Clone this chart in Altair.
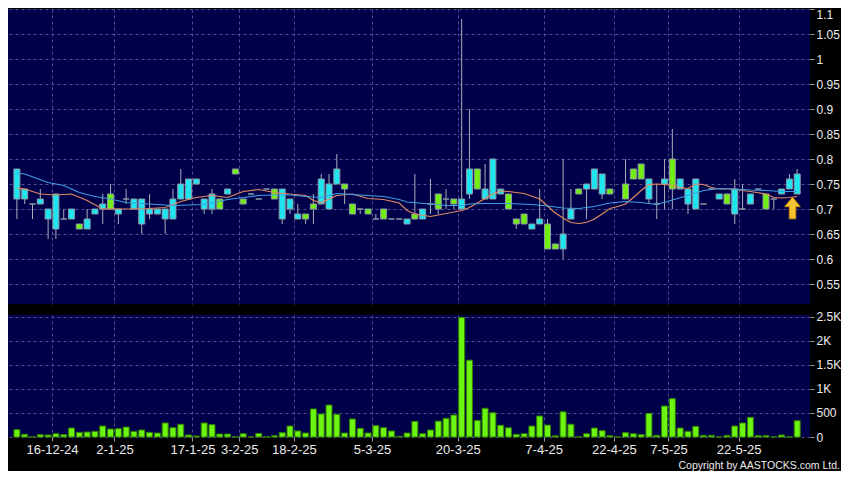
import altair as alt
import pandas as pd
import numpy as np

# ---------------- data ----------------
opens = [0.72, 0.72, 0.71, 0.71, 0.68, 0.66, 0.68, 0.68, 0.67, 0.66,
         0.69, 0.70, 0.73, 0.69, 0.72, 0.70, 0.67, 0.69, 0.69, 0.68,
         0.68, 0.72, 0.72, 0.75, 0.70, 0.70, 0.72, 0.73, 0.78, 0.72,
         0.73, 0.72, 0.74, 0.74, 0.68, 0.70, 0.68, 0.69, 0.71, 0.71,
         0.70, 0.75, 0.75, 0.71, 0.70, 0.70, 0.68, 0.70, 0.68, 0.68,
         0.67, 0.69, 0.68, 0.71, 0.73, 0.72, 0.72, 0.70, 0.73, 0.78,
         0.72, 0.72, 0.73, 0.73, 0.68, 0.69, 0.66, 0.67, 0.67, 0.63,
         0.62, 0.68, 0.74, 0.74, 0.74, 0.73, 0.74, None, 0.75, 0.78,
         0.79, 0.72, 0.71, 0.75, 0.80, 0.74, 0.71, 0.70, 0.71, 0.74,
         0.72, 0.73, 0.69, 0.70, 0.71, 0.74, 0.73, 0.72, 0.73, 0.74,
         0.73]
highs = [0.78, 0.74, 0.71, 0.74, 0.70, 0.73, 0.70, 0.70, 0.67, 0.70,
         0.70, 0.73, 0.75, 0.70, 0.74, 0.72, 0.72, 0.73, 0.70, 0.70,
         0.74, 0.78, 0.76, 0.76, 0.72, 0.74, 0.72, 0.74, 0.78, 0.72,
         0.73, 0.72, 0.74, 0.74, 0.74, 0.72, 0.71, 0.69, 0.73, 0.77,
         0.77, 0.81, 0.75, 0.71, 0.70, 0.70, 0.69, 0.70, 0.68, 0.68,
         0.68, 0.77, 0.70, 0.76, 0.73, 0.74, 0.72, 1.08, 0.90, 0.78,
         0.79, 0.80, 0.74, 0.73, 0.68, 0.69, 0.67, 0.74, 0.68, 0.63,
         0.80, 0.74, 0.74, 0.75, 0.78, 0.77, 0.74, None, 0.80, 0.78,
         0.79, 0.76, 0.75, 0.80, 0.86, 0.76, 0.74, 0.76, 0.71, 0.74,
         0.73, 0.73, 0.76, 0.75, 0.73, 0.74, 0.73, 0.72, 0.74, 0.77,
         0.78]
lows = [0.68, 0.71, 0.68, 0.71, 0.64, 0.64, 0.68, 0.68, 0.66, 0.66,
        0.69, 0.67, 0.70, 0.67, 0.71, 0.70, 0.65, 0.68, 0.69, 0.65,
        0.68, 0.72, 0.72, 0.75, 0.69, 0.69, 0.70, 0.73, 0.77, 0.71,
        0.73, 0.72, 0.74, 0.72, 0.67, 0.69, 0.68, 0.67, 0.67, 0.71,
        0.70, 0.75, 0.71, 0.69, 0.69, 0.69, 0.68, 0.68, 0.68, 0.68,
        0.67, 0.68, 0.68, 0.69, 0.69, 0.70, 0.70, 0.70, 0.72, 0.74,
        0.72, 0.72, 0.73, 0.70, 0.66, 0.67, 0.66, 0.67, 0.62, 0.62,
        0.60, 0.68, 0.73, 0.68, 0.74, 0.72, 0.73, None, 0.72, 0.76,
        0.76, 0.71, 0.68, 0.70, 0.70, 0.74, 0.69, 0.70, 0.71, 0.74,
        0.72, 0.71, 0.67, 0.70, 0.71, 0.74, 0.70, 0.70, 0.73, 0.74,
        0.73]
closes = [0.78, 0.74, 0.71, 0.72, 0.70, 0.73, 0.68, 0.70, 0.66, 0.68,
          0.70, 0.71, 0.70, 0.70, 0.72, 0.72, 0.72, 0.70, 0.70, 0.70,
          0.72, 0.75, 0.76, 0.76, 0.72, 0.73, 0.70, 0.74, 0.77, 0.71,
          0.73, 0.72, 0.74, 0.72, 0.74, 0.72, 0.69, 0.68, 0.70, 0.76,
          0.75, 0.78, 0.74, 0.69, 0.70, 0.69, 0.68, 0.68, 0.68, 0.68,
          0.68, 0.68, 0.70, 0.71, 0.70, 0.72, 0.71, 0.72, 0.78, 0.74,
          0.74, 0.80, 0.74, 0.70, 0.67, 0.67, 0.67, 0.68, 0.62, 0.62,
          0.65, 0.70, 0.73, 0.75, 0.78, 0.77, 0.73, None, 0.72, 0.76,
          0.76, 0.76, 0.71, 0.76, 0.74, 0.76, 0.74, 0.76, 0.71, 0.74,
          0.73, 0.71, 0.74, 0.70, 0.73, 0.74, 0.70, 0.72, 0.74, 0.76,
          0.77]
volumes = [153, 56, 5, 49, 42, 69, 49, 187, 97, 104,
           118, 229, 167, 174, 208, 118, 146, 97, 83, 292,
           194, 264, 42, 20, 292, 257, 62, 62, 5, 69,
           3, 76, 5, 28, 90, 229, 125, 83, 583, 479,
           666, 472, 83, 375, 180, 83, 236, 194, 125, 14,
           83, 326, 69, 146, 330, 389, 458, 2490, 1600, 345,
           598, 505, 245, 192, 56, 70, 228, 437, 248, 25,
           525, 266, 3, 69, 187, 132, 28, 0, 90, 69,
           49, 493, 35, 645, 798, 187, 118, 222, 35, 35,
           3, 35, 229, 292, 410, 28, 28, 3, 42, 3,
           340]

# moving-average lines, read at sampled trading-day positions
fast_ma_idx = [0, 1, 3, 5, 7, 9, 11, 13, 15, 17, 19, 21, 23, 25, 27, 29, 31, 33, 35, 37,
               38, 39, 41, 43, 45, 47, 49, 50, 51, 53, 55, 57, 58, 59, 60, 61, 62, 63, 65, 67,
               68, 69, 70, 71, 72, 73, 74, 75, 76, 77, 78, 79, 80, 81, 82, 83, 84, 85, 86, 87,
               88, 89, 90, 91, 92, 93, 94, 96, 97, 98, 99, 100]
fast_ma_val = [0.742, 0.74, 0.73, 0.728, 0.73, 0.717, 0.70, 0.70, 0.70, 0.701,
               0.703, 0.715, 0.723, 0.727, 0.723, 0.735, 0.739, 0.733, 0.73, 0.727,
               0.717, 0.713, 0.727, 0.73, 0.721, 0.719, 0.712, 0.697, 0.69, 0.685,
               0.691, 0.697, 0.703, 0.712, 0.721, 0.73, 0.736, 0.735, 0.731, 0.72,
               0.706, 0.692, 0.682, 0.673, 0.671, 0.673, 0.68, 0.69, 0.701, 0.705,
               0.71, 0.723, 0.737, 0.749, 0.75, 0.749, 0.747, 0.743, 0.741, 0.75,
               0.749, 0.743, 0.74, 0.74, 0.74, 0.737, 0.735, 0.73, 0.723, 0.722,
               0.723, 0.725]
slow_ma_idx = [0, 1, 4, 6, 8, 10, 12, 14, 18, 20, 24, 25, 27, 29, 31, 33, 35, 37, 39, 41,
               43, 45, 47, 49, 50, 53, 55, 57, 58, 60, 63, 66, 68, 70, 72, 74, 76, 78, 80, 82,
               84, 86, 88, 90, 92, 94, 96, 98, 100]
slow_ma_val = [0.772, 0.77, 0.753, 0.747, 0.733, 0.725, 0.72, 0.713, 0.709, 0.707,
               0.709, 0.712, 0.719, 0.723, 0.727, 0.728, 0.728, 0.725, 0.723, 0.731,
               0.729, 0.727, 0.725, 0.719, 0.714, 0.71, 0.707, 0.707, 0.71, 0.711,
               0.711, 0.709, 0.706, 0.702, 0.701, 0.705, 0.712, 0.715, 0.713, 0.709,
               0.718, 0.727, 0.737, 0.741, 0.74, 0.738, 0.737, 0.735, 0.735]

date_tick_pos = [4.5, 12.5, 22.5, 28.5, 35.5, 45.5, 56.5, 67.5, 76.5, 83.5, 92.5]
date_tick_labels = ["16-12-24", "2-1-25", "17-1-25", "3-2-25", "18-2-25", "5-3-25",
                    "20-3-25", "7-4-25", "22-4-25", "7-5-25", "22-5-25"]
price_ticks = [0.55, 0.6, 0.65, 0.7, 0.75, 0.8, 0.85, 0.9, 0.95, 1.0, 1.05, 1.1]
vol_ticks = [0, 500, 1000, 1500, 2000, 2500]
vol_tick_labels = ["0", "500", "1K", "1.5K", "2K", "2.5K"]

arrow_index = [99.4]
arrow_price = [0.702]
copyright_text = ["Copyright by AASTOCKS.com Ltd."]

# ---------------- styling ----------------
NAVY = "#00004a"
GRID = "#50508f"
CYAN = "#1ee6f0"
GREEN = "#72ee12"
VGREEN = "#6cf510"
BODY_STROKE = "#8c99a6"
WICK = "#a6aebb"
ORANGE = "#e0895e"
BLUE = "#3f9de2"
TEXT = "#ececec"
FONT = "Liberation Sans"

W = 802
H_PRICE = 295
H_VOL = 122
XDOM = [-0.5, 101.0]

df = pd.DataFrame({"i": list(range(len(opens))), "open": opens, "high": highs,
                   "low": lows, "close": closes, "volume": volumes})
df["dir"] = np.select([df["close"] > df["open"], df["close"] < df["open"]], ["up", "down"], "flat")

fast_df = pd.DataFrame({"i": fast_ma_idx, "v": fast_ma_val})
slow_df = pd.DataFrame({"i": slow_ma_idx, "v": slow_ma_val})
arrow_df = pd.DataFrame({"i": arrow_index, "p": arrow_price})
copy_df = pd.DataFrame({"t": copyright_text})

xscale = alt.Scale(domain=XDOM, nice=False, zero=False)
x_grid_axis = alt.Axis(values=date_tick_pos, grid=True, labels=False, ticks=False,
                       domain=False, title=None)

lbl_js = "[" + ",".join("'%s'" % s for s in date_tick_labels) + "]"
pos_js = "[" + ",".join(str(p) for p in date_tick_pos) + "]"
x_date_axis = alt.Axis(values=date_tick_pos, grid=True, labelExpr="%s[indexof(%s, datum.value)]" % (lbl_js, pos_js),
                       ticks=True, tickSize=4, tickColor="#9a9a9a", labelPadding=2,
                       labelFontSize=13, labelColor=TEXT, labelOverlap=False, labelFlush=False,
                       domain=False, title=None)

pscale = alt.Scale(domain=[0.51, 1.10], nice=False, zero=False)
p_axis = alt.Axis(orient="right", values=price_ticks, format="~g", grid=True, tickSize=4,
                  tickColor="#9a9a9a", labelPadding=2, labelFontSize=12, labelColor=TEXT,
                  labelFlush=True, domain=False, title=None)

vlbl_js = "[" + ",".join("'%s'" % s for s in vol_tick_labels) + "]"
vpos_js = "[" + ",".join(str(p) for p in vol_ticks) + "]"
v_axis = alt.Axis(orient="right", values=vol_ticks, labelExpr="%s[indexof(%s, datum.value)]" % (vlbl_js, vpos_js),
                  grid=True, tickSize=4, tickColor="#9a9a9a", labelPadding=2, labelFontSize=12,
                  labelColor=TEXT, labelFlush=False, domain=False, title=None)

base = alt.Chart(df).transform_filter("isValid(datum.open)")

wicks = base.mark_rule(color=WICK, strokeWidth=1).encode(
    x=alt.X("i:Q", scale=xscale, axis=x_grid_axis),
    y=alt.Y("low:Q", scale=pscale, axis=p_axis),
    y2="high:Q",
)
bodies = base.mark_bar(size=6, stroke=BODY_STROKE, strokeWidth=1).encode(
    x=alt.X("i:Q", scale=xscale, axis=x_grid_axis),
    y=alt.Y("open:Q", scale=pscale, axis=p_axis),
    y2="close:Q",
    fill=alt.Fill("dir:N", scale=alt.Scale(domain=["up", "down", "flat"], range=[CYAN, GREEN, WICK]), legend=None),
)
fast_line = alt.Chart(fast_df).mark_line(color=ORANGE, strokeWidth=1.2).encode(
    x=alt.X("i:Q", scale=xscale, axis=x_grid_axis),
    y=alt.Y("v:Q", scale=pscale, axis=p_axis),
)
slow_line = alt.Chart(slow_df).mark_line(color=BLUE, strokeWidth=1.2).encode(
    x=alt.X("i:Q", scale=xscale, axis=x_grid_axis),
    y=alt.Y("v:Q", scale=pscale, axis=p_axis),
)
ARROW = "M0,-1 L0.72,-0.12 L0.3,-0.12 L0.3,1 L-0.3,1 L-0.3,-0.12 L-0.72,-0.12 Z"
arrow = alt.Chart(arrow_df).mark_point(shape=ARROW, size=470, filled=True, fill="#f7c233",
                                       stroke="#c98f00", strokeWidth=1, opacity=1).encode(
    x=alt.X("i:Q", scale=xscale, axis=x_grid_axis),
    y=alt.Y("p:Q", scale=pscale, axis=p_axis),
)

price = alt.layer(wicks, bodies, fast_line, slow_line, arrow).properties(width=W, height=H_PRICE)

vol_bars = alt.Chart(df).mark_bar(size=6, fill=VGREEN, stroke="#2f7d00", strokeWidth=1).encode(
    x=alt.X("i:Q", scale=xscale, axis=x_date_axis),
    y=alt.Y("volume:Q", scale=alt.Scale(domain=[0, 2540], nice=False), axis=v_axis),
)
copy_txt = alt.Chart(copy_df).mark_text(align="right", baseline="alphabetic", fontSize=10.5,
                                        font=FONT, color=TEXT).encode(
    x=alt.value(W + 30), y=alt.value(H_VOL + 31.5), text="t:N")

volume = alt.layer(vol_bars, copy_txt).properties(width=W, height=H_VOL)

chart = alt.vconcat(price, volume, spacing=11, bounds="flush").properties(
    padding=0, background="#000000"
).configure_view(fill=NAVY, stroke=None).configure_axis(
    gridColor=GRID, gridDash=[3, 3], gridWidth=1, gridOpacity=1,
    labelFont=FONT,
)

chart.save("out.html", embed_options={"renderer": "svg", "actions": False})
